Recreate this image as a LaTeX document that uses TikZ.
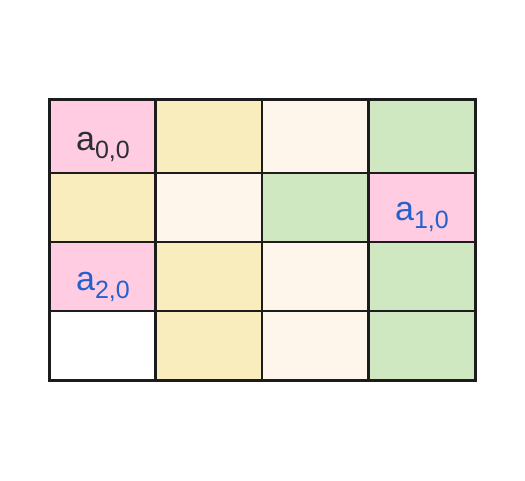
\documentclass[tikz,border=0pt]{standalone}
\usepackage{fontspec}
\setmainfont{Liberation Sans}
\definecolor{cellpink}{HTML}{FFCCE2}
\definecolor{cellyellow}{HTML}{F9EDBE}
\definecolor{cellcream}{HTML}{FEF5EB}
\definecolor{cellgreen}{HTML}{CFE8C2}
\definecolor{gridline}{HTML}{1C1C1C}
\definecolor{labelblue}{HTML}{2361CC}
\definecolor{labelgray}{HTML}{2A2F36}
\newcommand{\Elem}[2]{a\raisebox{-8pt}{\fontsize{25}{25}\selectfont #1,#2}}
\tikzset{elem/.style={anchor=base,inner sep=0pt,font=\fontsize{34}{34}\selectfont}}
\tikzset{gridrule/.style={draw=gridline,line width=2.8pt}}
\begin{document}
\begin{tikzpicture}[x=1pt,y=-1pt]
\useasboundingbox (0,0) rectangle (525,480);
% cell fills, row by row
\foreach \fills [count=\r from 0] in {{cellpink,cellyellow,cellcream,cellgreen},{cellyellow,cellcream,cellgreen,cellpink},{cellpink,cellyellow,cellcream,cellgreen},{white,cellyellow,cellcream,cellgreen}}{
  \pgfmathsetmacro\yt{{99,173,242,311}[\r]}
  \pgfmathsetmacro\yb{{173,242,311,380}[\r]}
  \foreach \f [count=\c from 0] in \fills
    \fill[\f] ({49+106.5*\c},\yt) rectangle ({49+106.5*(\c+1)},\yb);
}
% grid
\foreach \x in {155.5,262,368.5} \draw[gridrule] (\x,99)--(\x,380);
\foreach \y in {173,242,311} \draw[gridrule] (49,\y)--(475,\y);
\draw[gridrule,line width=3pt] (49,99) rectangle (475,380);
% labels
\node[elem,text=labelgray] (a00) at (103,150) {\Elem00};
\node[elem,text=labelblue] (a10) at (422,220) {\Elem10};
\node[elem,text=labelblue] (a20) at (103,290) {\Elem20};
\end{tikzpicture}
\end{document}
